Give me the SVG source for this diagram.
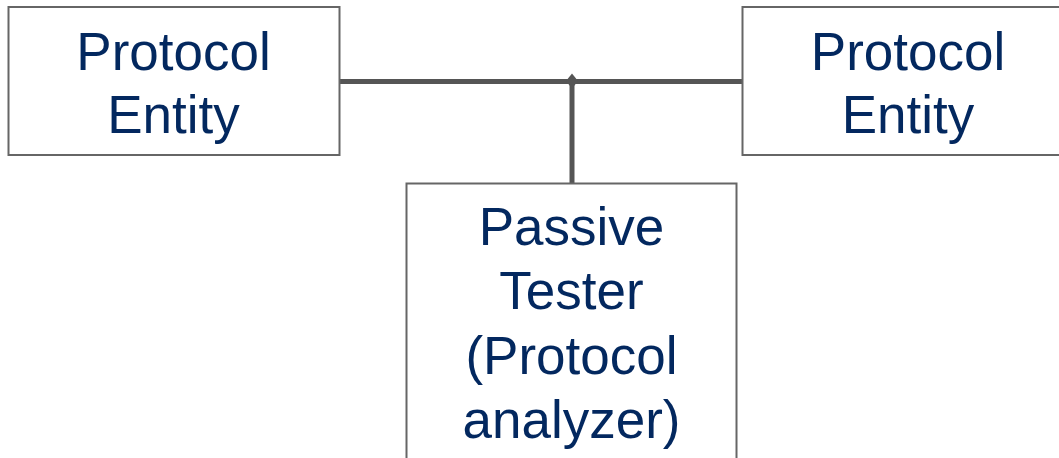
<svg xmlns="http://www.w3.org/2000/svg" width="1059" height="458" viewBox="0 0 1059 458">
  <style>
    .box { fill: #ffffff; stroke: #666666; stroke-width: 2; }
    .label { font-family: "Liberation Sans", Arial, sans-serif; font-size: 53px; fill: #03285f; text-anchor: middle; }
    .wire { stroke: #555555; stroke-width: 5; fill: none; }
  </style>
  <rect width="1059" height="458" fill="#ffffff"/>

  <!-- connectors: shared bus with a tap down to the tester -->
  <g id="connectors">
    <line class="wire" x1="339" y1="81.5" x2="743" y2="81.5"/>
    <line class="wire" x1="572" y1="81.5" x2="572" y2="183"/>
    <polygon points="572,73.5 578,81 572,88.5 566,81" fill="#555555"/>
  </g>

  <g id="entity-left">
    <rect class="box" x="8.5" y="7" width="331" height="148"/>
    <text class="label" x="173.5" y="70">Protocol</text>
    <text class="label" x="173.5" y="133">Entity</text>
  </g>

  <g id="entity-right">
    <rect class="box" x="742.5" y="7" width="331" height="148"/>
    <text class="label" x="908" y="70">Protocol</text>
    <text class="label" x="908" y="133">Entity</text>
  </g>

  <g id="passive-tester">
    <rect class="box" x="406.5" y="183.5" width="330" height="300"/>
    <text class="label" x="571.5" y="245">Passive</text>
    <text class="label" x="571.5" y="309">Tester</text>
    <text class="label" x="571.5" y="374">(Protocol</text>
    <text class="label" x="571.5" y="438">analyzer)</text>
  </g>
</svg>
